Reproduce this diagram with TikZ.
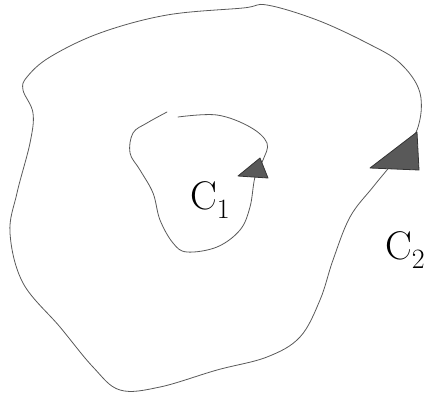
\documentclass[tikz,border=0pt]{standalone}
\newcommand{\lblsub}[1]{\raisebox{-0.22em}{\fontsize{28}{30}\selectfont #1}}
\begin{document}
\begin{tikzpicture}[x=1pt,y=-1pt,
  curve/.style={draw=black!65,line width=0.8pt,line join=round,line cap=round},
  head/.style={draw=black!80,fill=black!65,line width=0.8pt,line join=round},
  lbl/.style={font=\fontsize{40}{42}\selectfont,inner sep=0pt}]
\useasboundingbox (0,0) rectangle (433,400);
% outer curve C2
\draw[curve] plot[smooth cycle,tension=0.6] coordinates {
 (243,8) (167,15) (100,33) (50,57) (27,77) (23,90) (33,113) (30,143)
 (17,193) (10,233) (23,283) (60,327) (93,367) (120,390) (160,387)
 (217,370) (267,357) (300,337) (320,300) (333,260) (350,217) (373,187)
 (395,160) (417,130) (420,93) (400,63) (367,43) (317,20) (267,5)};
% inner curve C1 (small gap at top)
\draw[curve] plot[smooth,tension=0.6] coordinates {
 (178,117) (217,115) (250,127) (267,143) (263,160) (255,177) (250,207)
 (240,230) (217,247) (187,252) (173,243) (160,220) (153,193) (140,170)
 (130,153) (133,133) (147,123) (167,112)};
% arrowheads
\fill[head] (238,176) -- (260,158) -- (268,178) -- cycle;
\fill[head] (370,168) -- (417,132) -- (419,170) -- cycle;
% labels
\node[lbl] (c1) at (210,200) {C\lblsub{1}};
\node[lbl] (c2) at (405,250) {C\lblsub{2}};
\end{tikzpicture}
\end{document}
